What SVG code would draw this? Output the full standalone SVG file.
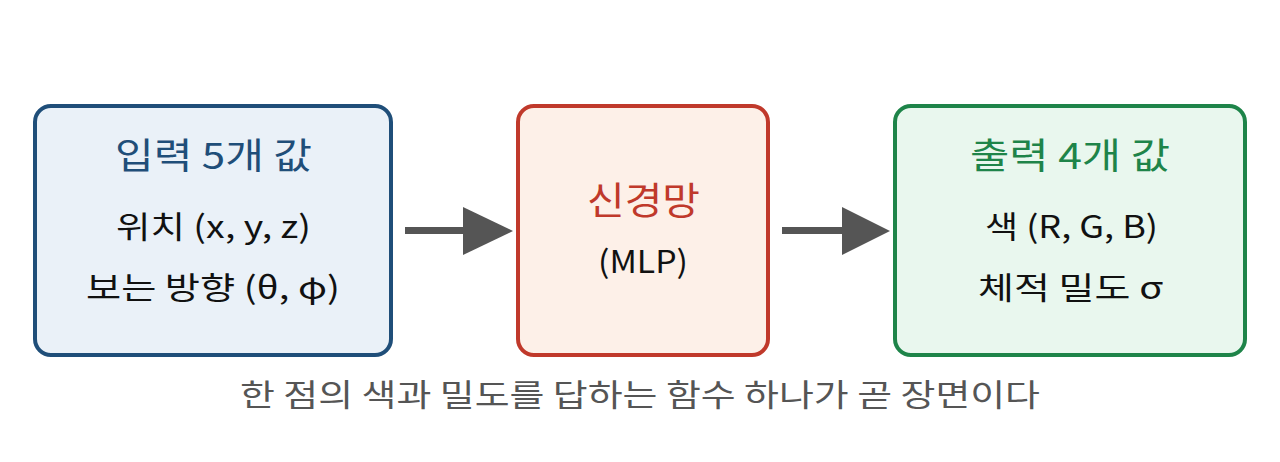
<svg xmlns="http://www.w3.org/2000/svg" width="1280" height="462" viewBox="0 0 1280 462">
<style>
text{font-family:"Noto Sans CJK KR","Noto Sans",sans-serif;text-anchor:middle}
.t{font-size:36px}
.b{font-size:31px;fill:#111}
.box{stroke-width:4}
</style>
<rect width="1280" height="462" fill="#fff"/>
<g id="input">
<rect class="box" x="35" y="106" width="356" height="249" rx="16" fill="#eaf1f8" stroke="#1f4e79"/>
<text class="t" x="213.5" y="169" fill="#1f4e79" textLength="197" lengthAdjust="spacingAndGlyphs">입력 5개 값</text>
<text class="b" x="213.5" y="238" textLength="195" lengthAdjust="spacingAndGlyphs">위치 (x, y, z)</text>
<text class="b" x="213" y="299" textLength="254" lengthAdjust="spacingAndGlyphs">보는 방향 (θ, φ)</text>
</g>
<g id="mlp">
<rect class="box" x="518" y="106" width="250" height="249" rx="16" fill="#fdf0e8" stroke="#c0392b"/>
<text x="643.5" y="214" font-size="38" fill="#c0392b" textLength="113" lengthAdjust="spacingAndGlyphs">신경망</text>
<text class="b" x="643" y="273" textLength="90" lengthAdjust="spacingAndGlyphs">(MLP)</text>
</g>
<g id="output">
<rect class="box" x="895" y="106" width="350" height="249" rx="16" fill="#e9f7ee" stroke="#1e8449"/>
<text class="t" x="1070" y="169" fill="#1e8449" textLength="200" lengthAdjust="spacingAndGlyphs">출력 4개 값</text>
<text class="b" x="1071.5" y="238" textLength="173" lengthAdjust="spacingAndGlyphs">색 (R, G, B)</text>
<text class="b" x="1070.5" y="299" textLength="185" lengthAdjust="spacingAndGlyphs">체적 밀도 σ</text>
</g>
<g id="connectors" fill="#555">
<rect x="405" y="227" width="60" height="7"/>
<polygon points="463,207 513,231 463,255"/>
<rect x="782" y="227" width="62" height="7"/>
<polygon points="842,207 890,231 842,255"/>
</g>
<text x="640" y="406" font-size="31" fill="#555" textLength="800" lengthAdjust="spacingAndGlyphs">한 점의 색과 밀도를 답하는 함수 하나가 곧 장면이다</text>
</svg>
